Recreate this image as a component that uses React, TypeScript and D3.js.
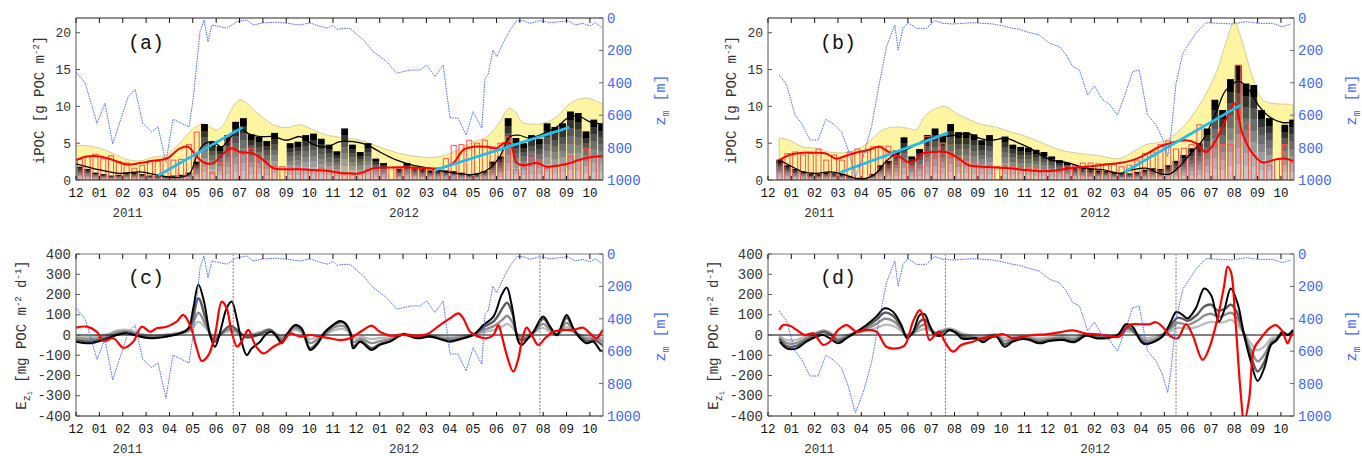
import React from "react";
import * as d3 from "d3";

type P = [number, number];

const FONT = "'Liberation Mono', 'DejaVu Sans Mono', monospace";
const TEXT = "#333";
const BLUE = "#3f66ff";
const T_MAX = 22.56; // months after 1 Dec 2010

const months = ["12", "01", "02", "03", "04", "05", "06", "07", "08", "09", "10", "11", "12", "01", "02", "03", "04", "05", "06", "07", "08", "09", "10"];
const years: [string, number][] = [["2011", 2.2], ["2012", 14.04]];
const iPocTicks = [0, 5, 10, 15, 20];
const eTicks = [-400, -300, -200, -100, 0, 100, 200, 300, 400];
const zmTicks = [0, 200, 400, 600, 800, 1000];

// 10-day integrated POC bars (g POC m-2), index i -> (i + 0.5) / 3 months
const greyA = [1.8, 1.5, 1.0, 0.8, 0.6, 0.7, 1.0, 1.0, 0.8, 0.6, 0.5, 0.5, 0.6, 0.7, 1.0, 2.5, 7.6, 5.2, 4.6, 6.1, 7.9, 8.4, 6.2, 5.9, 5.3, 6.4, 0, 5.0, 5.2, 6.1, 6.3, 5.6, 4.8, 3.9, 7.0, 4.8, 3.8, 5.0, 2.9, 2.3, 0, 1.5, 2.3, 1.8, 1.5, 1.3, 1.2, 1.3, 1.2, 1.0, 0.8, 0.9, 1.2, 2.5, 3.2, 8.4, 5.7, 5.0, 6.1, 5.6, 7.7, 7.2, 7.7, 9.3, 9.1, 6.6, 8.2, 7.6];
const redA = [2.8, 3.2, 3.5, 2.9, 3.3, 2.5, 2.3, 1.6, 2.0, 2.6, 2.5, 3.0, 2.7, 2.8, 4.8, 6.5, 2.0, 1.0, 2.4, 5.9, 4.0, 3.6, 4.3, 3.6, 2.5, 1.8, 1.8, 1.6, 1.5, 1.5, 1.3, 1.6, 1.3, 1.2, 0.8, 0.7, 1.0, 1.4, 1.4, 1.4, 1.7, 1.6, 1.7, 1.6, 1.7, 1.5, 1.5, 2.9, 4.7, 4.8, 5.4, 5.0, 5.4, 4.5, 5.0, 5.9, 1.4, 1.8, 3.6, 2.7, 1.6, 2.0, 2.0, 3.2, 2.8, 4.3, 3.2, 3.3];
const greyB = [0, 2.7, 2.0, 1.5, 1.2, 0.8, 0.8, 1.0, 0.9, 0.8, 0.5, 0.3, 0.3, 0.8, 2.0, 2.6, 4.0, 5.8, 3.2, 4.2, 6.1, 7.0, 6.0, 7.6, 6.5, 6.5, 6.2, 5.4, 6.1, 0, 5.9, 4.8, 4.5, 4.4, 4.1, 3.8, 3.2, 2.7, 2.3, 1.8, 1.7, 1.5, 1.3, 1.2, 1.1, 0.9, 0.9, 1.1, 1.4, 1.6, 1.5, 2.0, 2.6, 3.4, 4.3, 5.0, 7.0, 10.9, 9.5, 13.7, 15.6, 13.1, 12.9, 9.5, 8.4, 0, 7.5, 8.2];
const redB = [0, 2.8, 3.6, 3.8, 3.4, 3.6, 4.2, 2.7, 3.4, 2.7, 3.8, 4.2, 3.8, 4.5, 4.6, 4.6, 3.2, 2.3, 1.8, 1.8, 5.9, 3.2, 5.0, 3.2, 3.0, 2.8, 2.3, 1.8, 1.9, 1.8, 1.9, 1.8, 1.7, 1.6, 1.5, 1.4, 1.3, 1.2, 1.9, 2.0, 2.3, 2.3, 2.2, 2.2, 2.1, 1.8, 2.0, 2.6, 3.6, 3.8, 4.8, 5.3, 4.2, 4.3, 4.8, 7.5, 3.8, 4.8, 4.8, 4.8, 15.6, 7.7, 3.4, 2.4, 2.0, 2.8, 4.8, 2.4];

// envelope (yellow), smoothed iPOC (black), smoothed red series
const envA: P[] = [[0, 4.66], [0.46, 4.66], [1.03, 4.3], [1.6, 3.6], [2.17, 2.8], [2.74, 2.6], [3.3, 3.1], [3.88, 3.4], [4.45, 5.0], [5.02, 7.0], [5.45, 7.6], [5.74, 7.2], [6.02, 6.8], [6.31, 7.5], [6.73, 10.0], [7.02, 10.9], [7.31, 10.4], [7.88, 8.8], [8.45, 7.5], [9.02, 7.1], [9.59, 7.5], [10.16, 6.8], [10.73, 6.1], [11.3, 5.8], [12.16, 5.4], [13.0, 4.5], [13.73, 3.7], [14.58, 3.2], [15.44, 3.1], [16.15, 3.8], [16.87, 5.0], [17.58, 5.9], [18.15, 7.9], [18.51, 9.7], [18.8, 9.3], [19.08, 7.9], [19.44, 7.6], [20.0, 7.7], [20.58, 8.6], [21.15, 10.4], [21.72, 11.1], [22.15, 10.9], [22.58, 10.2]];
const envB: P[] = [[0.48, 5.7], [0.92, 5.4], [1.49, 4.5], [2.06, 4.3], [2.63, 3.8], [3.2, 3.7], [3.77, 4.1], [4.34, 5.2], [4.91, 6.8], [5.48, 7.2], [6.05, 7.0], [6.34, 6.8], [6.76, 8.8], [7.19, 9.7], [7.62, 10.0], [8.05, 9.1], [8.62, 8.2], [9.19, 7.5], [9.76, 7.2], [10.33, 6.6], [10.9, 6.1], [11.64, 5.2], [12.5, 4.1], [13.36, 3.6], [14.21, 3.3], [15.07, 2.9], [15.64, 3.8], [16.21, 4.8], [16.92, 5.2], [17.5, 6.3], [18.07, 8.2], [18.64, 10.9], [19.21, 14.5], [19.64, 18.6], [20.0, 21.5], [20.35, 18.6], [20.78, 14.0], [21.21, 10.9], [21.64, 10.4], [22.21, 10.3], [22.52, 10.2]];
const blackA: P[] = [[0, 2.2], [1.03, 1.36], [1.89, 0.9], [2.74, 1.1], [3.59, 0.6], [4.45, 0.35], [4.87, 0.9], [5.16, 3.2], [5.45, 4.8], [5.88, 5.2], [6.23, 4.5], [6.59, 5.7], [7.02, 7.0], [7.38, 6.3], [7.88, 5.9], [8.45, 5.9], [9.02, 5.4], [9.59, 5.9], [10.16, 4.8], [10.73, 4.5], [11.3, 5.2], [11.87, 5.2], [12.44, 4.8], [13.01, 3.8], [13.73, 2.7], [14.44, 2.0], [15.15, 1.6], [15.87, 1.1], [16.58, 0.8], [17.15, 0.8], [17.72, 1.6], [18.15, 3.2], [18.58, 5.9], [18.93, 6.1], [19.43, 5.7], [20.0, 6.3], [20.58, 7.2], [21.15, 8.6], [21.58, 8.6], [22.0, 7.9], [22.58, 7.6]];
const blackB: P[] = [[0.48, 2.7], [0.92, 2.0], [1.49, 1.1], [2.06, 0.9], [2.63, 1.1], [3.2, 0.8], [3.77, 0.2], [4.2, 0.2], [4.63, 0.9], [5.05, 2.5], [5.48, 3.6], [6.05, 4.3], [6.48, 5.0], [6.91, 5.7], [7.48, 5.9], [8.05, 6.1], [8.62, 6.3], [9.05, 5.7], [9.62, 5.4], [10.19, 5.7], [10.76, 5.0], [11.19, 4.4], [12.07, 2.8], [12.93, 2.3], [13.64, 1.6], [14.36, 1.4], [15.07, 0.9], [15.64, 1.4], [16.21, 1.6], [16.78, 0.9], [17.21, 0.8], [17.64, 1.8], [18.07, 3.4], [18.64, 5.4], [19.21, 9.1], [19.64, 12.2], [20.21, 13.4], [20.64, 12.2], [21.07, 10.0], [21.5, 8.6], [22.07, 7.8], [22.52, 7.9]];
const redLineA: P[] = [[0, 2.7], [0.46, 3.2], [1.03, 3.2], [1.6, 2.7], [2.17, 2.1], [2.74, 2.3], [3.3, 2.6], [3.88, 2.9], [4.45, 4.3], [4.8, 4.5], [5.16, 3.2], [5.52, 2.3], [5.88, 2.3], [6.31, 3.6], [6.66, 4.3], [7.02, 3.8], [7.59, 3.6], [8.02, 2.7], [8.45, 1.6], [9.02, 1.45], [9.59, 1.45], [10.16, 1.36], [10.73, 1.27], [11.3, 0.95], [11.7, 0.9], [12.16, 0.9], [12.73, 1.6], [13.44, 1.7], [14.3, 1.7], [15.01, 1.6], [15.58, 1.6], [16.15, 2.3], [16.58, 4.1], [17.01, 4.5], [17.58, 4.5], [18.01, 4.3], [18.3, 5.0], [18.58, 5.0], [18.87, 2.3], [19.15, 2.0], [19.72, 2.3], [20.15, 1.8], [20.72, 2.0], [21.15, 2.3], [21.72, 2.9], [22.29, 3.2], [22.58, 3.2]];
const redLineB: P[] = [[0.48, 2.7], [0.92, 3.4], [1.49, 3.7], [2.06, 3.7], [2.49, 3.6], [2.92, 2.9], [3.35, 3.3], [3.77, 3.7], [4.34, 4.1], [4.77, 4.5], [5.19, 3.8], [5.62, 3.2], [6.05, 2.4], [6.34, 2.7], [6.62, 3.6], [7.05, 3.8], [7.62, 3.8], [8.05, 3.2], [8.62, 2.0], [9.19, 1.8], [9.76, 1.7], [10.33, 1.6], [10.9, 1.4], [11.64, 1.2], [12.36, 1.3], [12.93, 1.6], [13.64, 1.8], [14.5, 2.1], [15.07, 2.3], [15.64, 2.7], [16.21, 3.5], [16.78, 4.5], [17.35, 5.1], [17.93, 5.4], [18.35, 5.0], [18.78, 3.8], [19.21, 5.4], [19.64, 8.2], [20.0, 10.4], [20.35, 6.3], [20.78, 3.6], [21.21, 2.4], [21.78, 2.8], [22.21, 2.9], [22.52, 2.6]];
const cyanA: P[][] = [[[3.52, 0.6], [7.13, 7.15]], [[15.37, 1.36], [21.12, 7.15]]];
const cyanB: P[][] = [[[3.11, 1.05], [7.72, 6.4]], [[15.28, 1.05], [20.28, 10.2]]];

// mixed layer depth z_m (m)
const zmA: P[] = [[0, 333], [0.39, 401], [0.9, 650], [1.24, 527], [1.57, 777], [2.23, 487], [2.53, 440], [2.86, 650], [3.24, 702], [3.51, 671], [3.85, 891], [4.15, 625], [4.52, 650], [4.84, 673], [5.01, 506], [5.31, 85], [5.48, 12], [5.65, 146], [5.82, 43], [6.46, 63], [6.89, 23], [7.32, 12], [7.58, 43], [8.01, 30], [8.6, 26], [9.16, 35], [9.59, 43], [10.02, 30], [10.45, 52], [10.79, 63], [11.0, 45], [11.17, 70], [11.45, 64], [11.73, 64], [12.3, 136], [12.73, 208], [13.3, 270], [13.73, 341], [14.3, 321], [14.73, 321], [15.01, 290], [15.37, 362], [15.72, 290], [16.01, 617], [16.35, 617], [16.7, 722], [17.0, 578], [17.37, 680], [17.51, 372], [17.64, 352], [17.85, 198], [18.01, 239], [18.28, 155], [18.58, 74], [18.87, 16], [19.14, 16], [19.43, 33], [19.86, 16], [20.29, 29], [20.72, 23], [21.06, 16], [21.36, 43], [21.7, 33], [22.0, 49], [22.22, 29], [22.5, 57]];
const zmB: P[] = [[0.48, 352], [0.8, 414], [1.16, 599], [1.44, 650], [1.8, 753], [2.15, 753], [2.48, 625], [2.8, 654], [3.15, 702], [3.44, 815], [3.75, 980], [4.08, 856], [4.44, 671], [4.75, 424], [5.08, 177], [5.44, 43], [5.58, 198], [5.79, 64], [6.01, 29], [6.37, 64], [6.79, 64], [7.15, 16], [7.5, 33], [7.93, 37], [8.36, 33], [8.79, 29], [9.22, 33], [9.64, 37], [10.07, 49], [10.5, 64], [10.79, 70], [11.07, 84], [11.64, 105], [12.07, 156], [12.5, 177], [12.79, 228], [13.07, 300], [13.36, 321], [13.71, 475], [14.0, 420], [14.36, 506], [14.64, 531], [14.99, 599], [15.28, 486], [15.64, 331], [15.92, 321], [16.28, 599], [16.64, 660], [16.92, 743], [17.14, 856], [17.28, 722], [17.5, 403], [17.79, 218], [18.07, 156], [18.35, 95], [18.78, 29], [19.35, 33], [19.92, 37], [20.49, 23], [21.06, 33], [21.63, 33], [22.06, 54], [22.42, 37]];

// export fluxes E_zi (mg POC m-2 d-1), panel (c)
const eBlackC: P[] = [[0, -33], [0.6, -41], [1.17, -25], [1.74, 0], [2.17, 8], [2.74, -8], [3.3, -16], [3.88, -8], [4.45, 8], [4.81, 33], [5.02, 132], [5.24, 250], [5.48, 165], [5.74, 0], [5.95, -58], [6.17, 16], [6.45, 132], [6.66, 165], [6.88, 82], [7.09, -33], [7.31, -99], [7.52, -66], [7.88, -33], [8.16, 8], [8.38, 16], [8.6, -8], [8.8, -41], [9.02, 0], [9.38, 49], [9.66, 33], [10.02, -74], [10.3, -49], [10.66, 16], [11.0, 49], [11.3, 69], [11.5, 60], [11.73, 16], [11.87, -66], [12.16, -33], [12.66, -74], [13.01, -49], [13.44, -33], [14.01, 3], [14.58, -16], [15.15, -8], [15.72, -25], [16.01, -33], [16.58, -16], [17.0, 0], [17.44, 49], [17.87, 91], [18.22, 198], [18.44, 234], [18.65, 148], [18.94, -33], [19.08, -49], [19.29, -25], [19.58, 16], [20.0, 91], [20.29, 41], [20.58, 0], [21.0, 99], [21.29, 33], [21.58, -16], [21.86, -41], [22.15, -33], [22.43, -74], [22.58, -82]];
const eDarkC: P[] = [[0, -25], [0.6, -32], [1.2, -18], [1.8, 5], [2.2, 12], [2.8, -8], [3.3, -14], [3.9, -5], [4.45, 8], [4.85, 35], [5.24, 180], [5.55, 80], [5.9, -35], [6.2, 5], [6.6, 45], [6.9, 25], [7.3, -12], [7.9, 5], [8.3, 25], [8.8, -28], [9.35, 45], [9.65, 28], [10.02, -65], [10.3, -42], [10.7, 15], [11.1, 55], [11.44, 62], [11.75, 10], [11.87, -55], [12.2, -30], [12.66, -65], [13.0, -45], [13.45, -30], [14.0, 3], [14.6, -14], [15.15, -8], [15.7, -22], [16.0, -28], [16.6, -14], [17.0, 0], [17.45, 40], [17.9, 70], [18.3, 140], [18.45, 160], [18.7, 100], [18.95, -20], [19.3, -18], [19.6, 15], [20.0, 80], [20.3, 38], [20.6, 0], [21.0, 85], [21.3, 28], [21.6, -12], [21.9, -30], [22.2, -25], [22.58, -55]];
const eMidC: P[] = [[0, -15], [0.6, -20], [1.2, -8], [1.8, 15], [2.2, 18], [2.8, -2], [3.3, -8], [3.9, 0], [4.45, 10], [4.85, 25], [5.24, 110], [5.55, 50], [5.9, -20], [6.2, 5], [6.6, 30], [6.9, 15], [7.3, -5], [7.9, 12], [8.3, 25], [8.8, -15], [9.35, 35], [9.65, 20], [10.02, -40], [10.3, -25], [10.7, 10], [11.1, 40], [11.44, 45], [11.75, 5], [11.87, -35], [12.2, -20], [12.66, -40], [13.0, -30], [13.45, -20], [14.0, 5], [14.6, -10], [15.15, -5], [15.7, -15], [16.0, -18], [16.6, -8], [17.0, 0], [17.45, 25], [17.9, 45], [18.3, 80], [18.45, 95], [18.7, 60], [18.95, -8], [19.3, -8], [19.6, 15], [20.0, 55], [20.3, 25], [20.6, 0], [21.0, 60], [21.3, 20], [21.6, -5], [21.9, -18], [22.2, -15], [22.58, -35]];
const eLightC: P[] = [[0, -8], [0.6, -10], [1.2, 0], [1.8, 22], [2.2, 25], [2.8, 5], [3.3, -3], [3.9, 3], [4.45, 10], [4.85, 18], [5.24, 65], [5.55, 35], [5.9, -8], [6.2, 5], [6.6, 20], [6.9, 10], [7.3, 0], [7.9, 15], [8.3, 28], [8.8, -5], [9.35, 25], [9.65, 15], [10.02, -20], [10.3, -12], [10.7, 5], [11.1, 25], [11.44, 30], [11.75, 5], [11.87, -18], [12.2, -10], [12.66, -20], [13.0, -15], [13.45, -10], [14.0, 5], [14.6, -5], [15.15, -2], [15.7, -8], [16.0, -10], [16.6, -4], [17.0, 2], [17.45, 15], [17.9, 25], [18.3, 45], [18.45, 55], [18.7, 35], [18.95, 2], [19.3, 0], [19.6, 12], [20.0, 35], [20.3, 15], [20.6, 0], [21.0, 40], [21.3, 12], [21.6, 0], [21.9, -8], [22.2, -8], [22.58, -18]];
const eRedC: P[] = [[0, 36], [0.46, 41], [0.89, 16], [1.17, -30], [1.6, -16], [2.03, -63], [2.45, -33], [2.81, 41], [3.17, 16], [3.45, 33], [3.88, 41], [4.31, 66], [4.59, 99], [4.88, 49], [5.17, -66], [5.38, -128], [5.67, -99], [5.95, 0], [6.24, 165], [6.45, 132], [6.66, 16], [6.9, -58], [7.16, -16], [7.38, 25], [7.67, -49], [8.02, -91], [8.45, -58], [8.88, -30], [9.16, 8], [9.59, -8], [10.02, 0], [10.45, -8], [10.87, -16], [11.3, -25], [11.73, -16], [12.3, 25], [12.66, 46], [13.0, 16], [13.44, -3], [14.0, 0], [14.58, -3], [15.01, 3], [15.58, 49], [16.01, 82], [16.37, 107], [16.58, 82], [16.87, 16], [17.22, -8], [17.58, -16], [17.87, 0], [18.08, 49], [18.22, 0], [18.44, -99], [18.72, -181], [18.94, -115], [19.08, -33], [19.29, 36], [19.51, 0], [19.79, -49], [20.08, -16], [20.43, 16], [20.86, 25], [21.29, 25], [21.72, 36], [22.0, 8], [22.29, -16], [22.5, 16], [22.58, 25]];

// panel (d)
const eBlackD: P[] = [[0.51, -33], [0.8, -66], [1.23, -66], [1.65, -33], [2.08, -8], [2.37, 0], [2.65, -16], [3.01, -41], [3.37, -16], [3.8, 16], [4.22, 49], [4.65, 91], [5.0, 132], [5.36, 115], [5.72, 49], [5.96, -16], [6.22, 16], [6.51, 99], [6.72, 102], [6.93, 49], [7.15, 0], [7.5, 0], [7.79, 25], [8.08, 8], [8.29, -16], [8.58, -20], [8.93, -16], [9.22, -36], [9.5, -16], [9.79, -8], [10.15, -58], [10.5, -33], [10.93, -20], [11.22, -25], [11.64, -41], [12.07, -30], [12.64, -25], [13.14, -36], [13.64, -3], [14.07, -16], [14.5, -16], [15.0, 0], [15.35, 53], [15.64, 41], [16.0, -33], [16.21, -46], [16.57, -33], [16.92, -8], [17.28, 66], [17.52, 115], [17.78, 99], [17.99, 82], [18.35, 132], [18.71, 230], [19.0, 198], [19.21, 107], [19.35, 66], [19.57, 123], [19.85, 230], [20.14, 156], [20.42, 0], [20.71, -132], [21.0, -227], [21.28, -165], [21.57, -49], [21.78, -30], [22.07, 16], [22.28, 0], [22.52, 25]];
const eDarkD: P[] = [[0.48, -20], [0.8, -55], [1.2, -55], [1.65, -25], [2.1, 5], [2.4, 15], [2.7, 0], [3.0, -30], [3.4, -10], [3.8, 15], [4.2, 40], [4.65, 75], [5.0, 110], [5.36, 95], [5.72, 40], [5.96, -10], [6.22, 10], [6.55, 70], [6.75, 75], [6.95, 40], [7.2, 5], [7.5, 15], [7.8, 25], [8.1, 10], [8.4, -10], [8.8, -15], [9.2, -25], [9.5, -10], [9.8, -5], [10.15, -45], [10.5, -25], [10.9, -15], [11.2, -20], [11.6, -35], [12.1, -25], [12.6, -20], [13.1, -30], [13.6, -3], [14.1, -12], [14.5, -12], [15.0, 0], [15.35, 40], [15.6, 30], [16.0, -25], [16.2, -40], [16.6, -30], [16.9, -5], [17.3, 50], [17.55, 85], [17.8, 80], [18.0, 70], [18.4, 100], [18.7, 140], [19.0, 150], [19.3, 120], [19.6, 130], [19.85, 150], [20.1, 115], [20.4, 10], [20.7, -100], [21.0, -180], [21.3, -130], [21.6, -40], [21.8, -25], [22.1, 10], [22.3, 0], [22.52, 20]];
const eMidD: P[] = [[0.48, -12], [0.8, -40], [1.2, -40], [1.65, -15], [2.1, 10], [2.4, 20], [2.7, 5], [3.0, -22], [3.4, -5], [3.8, 15], [4.2, 30], [4.65, 55], [5.0, 80], [5.36, 70], [5.72, 30], [5.96, -5], [6.22, 8], [6.55, 45], [6.75, 50], [6.95, 30], [7.2, 10], [7.5, 20], [7.8, 28], [8.1, 15], [8.4, -5], [8.8, -10], [9.2, -15], [9.5, -5], [9.8, 0], [10.15, -30], [10.5, -15], [10.9, -10], [11.2, -12], [11.6, -25], [12.1, -18], [12.6, -12], [13.1, -20], [13.6, 0], [14.1, -8], [14.5, -8], [15.0, 0], [15.35, 30], [15.6, 22], [16.0, -15], [16.2, -28], [16.6, -20], [16.9, 0], [17.3, 35], [17.55, 60], [17.8, 55], [18.0, 50], [18.4, 70], [18.7, 95], [19.0, 105], [19.3, 90], [19.6, 100], [19.85, 110], [20.1, 85], [20.4, 10], [20.7, -70], [21.0, -130], [21.3, -95], [21.6, -30], [21.8, -18], [22.1, 8], [22.3, 0], [22.52, 15]];
const eLightD: P[] = [[0.48, -5], [0.8, -25], [1.2, -25], [1.65, -5], [2.1, 12], [2.4, 22], [2.7, 10], [3.0, -12], [3.4, 0], [3.8, 12], [4.2, 20], [4.65, 35], [5.0, 50], [5.36, 45], [5.72, 20], [5.96, 0], [6.22, 8], [6.55, 25], [6.75, 30], [6.95, 22], [7.2, 12], [7.5, 25], [7.8, 32], [8.1, 20], [8.4, 5], [8.8, -3], [9.2, -8], [9.5, 0], [9.8, 3], [10.15, -15], [10.5, -8], [10.9, -5], [11.2, -5], [11.6, -15], [12.1, -10], [12.6, -5], [13.1, -10], [13.6, 3], [14.1, -3], [14.5, -3], [15.0, 2], [15.35, 18], [15.6, 15], [16.0, -5], [16.2, -15], [16.6, -10], [16.9, 2], [17.3, 20], [17.55, 35], [17.8, 35], [18.0, 32], [18.4, 40], [18.7, 55], [19.0, 65], [19.3, 60], [19.6, 65], [19.85, 75], [20.1, 55], [20.4, 10], [20.7, -40], [21.0, -75], [21.3, -55], [21.6, -15], [21.8, -10], [22.1, 5], [22.3, 0], [22.52, 8]];
const eRedD: P[] = [[0.48, 25], [0.65, 49], [0.94, 46], [1.23, 25], [1.58, 0], [1.94, 8], [2.37, -49], [2.65, -33], [3.01, 25], [3.37, 49], [3.8, 16], [4.22, 25], [4.65, 16], [5.08, -58], [5.51, -66], [5.87, -49], [6.22, 66], [6.51, 123], [6.72, 66], [6.93, -25], [7.22, 8], [7.36, 16], [7.58, -33], [7.93, -82], [8.29, -49], [8.79, -33], [9.15, -16], [9.65, -8], [10.07, 5], [10.5, -16], [10.93, -8], [11.35, 0], [11.92, 3], [12.5, 13], [13.07, 23], [13.64, 7], [14.21, 3], [14.78, -8], [15.07, -8], [15.5, 49], [15.92, 53], [16.35, 53], [16.64, 63], [16.92, 41], [17.28, -8], [17.57, -16], [17.93, 53], [18.21, 0], [18.64, -123], [18.92, -66], [19.28, 82], [19.57, 247], [19.71, 337], [19.85, 313], [20.04, 82], [20.28, -296], [20.42, -428], [20.64, -313], [20.85, -66], [21.14, -16], [21.5, 33], [21.78, 49], [22.07, 16], [22.28, -41], [22.42, -8], [22.52, 8]];

const markersC = [6.73, 19.86];
const markersD = [7.61, 17.5];

const stackStops: [number, string][] = [
  [0, "#000"], [0.13, "#000"], [0.13, "#333"], [0.24, "#333"], [0.24, "#555"], [0.36, "#555"],
  [0.36, "#6e6e6e"], [0.48, "#6e6e6e"], [0.48, "#858585"], [0.6, "#858585"], [0.6, "#9c9c9c"], [0.72, "#9c9c9c"],
  [0.72, "#b2b2b2"], [0.86, "#b2b2b2"], [0.86, "#c6c6c6"], [1, "#c6c6c6"],
];

const smoothCurve = d3.curveCatmullRom.alpha(0.5);

function Frame({ x, y, z, ticks, tickFont, topStroke, topWidth }: any) {
  const [x0, x1] = x.range();
  const [yb, yt] = y.range();
  return (
    <g fontFamily={FONT}>
      <line x1={x0} x2={x1} y1={yt} y2={yt} stroke={topStroke} strokeWidth={topWidth} />
      <line x1={x0} x2={x1} y1={yb} y2={yb} stroke="#222" strokeWidth={1} />
      <line x1={x0} x2={x0} y1={yt} y2={yb} stroke="#555" strokeWidth={1} />
      <line x1={x1} x2={x1} y1={yt} y2={yb} stroke="#666" strokeWidth={1} />
      {months.map((m, i) => (
        <g key={i}>
          <line x1={x(i)} x2={x(i)} y1={yt} y2={yt + 5} stroke="#111" />
          <line x1={x(i)} x2={x(i)} y1={yb} y2={yb - 4} stroke="#111" />
          <text x={x(i)} y={yb + 16.5} textAnchor="middle" fontSize={12.5} fill="#111">{m}</text>
        </g>
      ))}
      {years.map(([lab, t]) => (
        <text key={lab} x={x(t)} y={yb + 36.5} textAnchor="middle" fontSize={12.5} fill={TEXT}>{lab}</text>
      ))}
      {ticks.map((v: number) => (
        <g key={v}>
          <line x1={x0} x2={x0 + 4} y1={y(v)} y2={y(v)} stroke="#555" />
          <text x={x0 - 5} y={y(v) + 4.5} textAnchor="end" fontSize={tickFont} fill={TEXT}>{v}</text>
        </g>
      ))}
      {zmTicks.map((v) => (
        <g key={v}>
          <line x1={x1 - 4} x2={x1} y1={z(v)} y2={z(v)} stroke="#666" />
          <text x={x1 + 4} y={z(v) + 5} fontSize={14} fill={BLUE}>{v}</text>
        </g>
      ))}
    </g>
  );
}

function TopPanel({ id, x0, x1, tag, grey, red, env, black, redLine, cyan, zm }: any) {
  const y0 = 18, y1 = 180;
  const x = d3.scaleLinear().domain([0, T_MAX]).range([x0, x1]);
  const y = d3.scaleLinear().domain([0, 22]).range([y1, y0]);
  const z = d3.scaleLinear().domain([0, 1000]).range([y0, y1]);
  const line = d3.line<P>().x((d) => x(d[0])).y((d) => y(d[1])).curve(smoothCurve);
  const straight = d3.line<P>().x((d) => x(d[0])).y((d) => y(d[1]));
  const area = d3.area<P>().x((d) => x(d[0])).y0(y(0)).y1((d) => y(d[1])).curve(smoothCurve);
  const zLine = d3.line<P>().x((d) => x(d[0])).y((d) => z(d[1]));
  const step = x(1 / 3) - x(0);
  const bt = (i: number) => (i + 0.5) / 3;
  return (
    <g>
      <clipPath id={`clip-${id}`}>
        <rect x={x0} y={y0} width={x1 - x0} height={y1 - y0} />
      </clipPath>
      <g clipPath={`url(#clip-${id})`}>
        <path d={area(env) || ""} fill="#fdf5a2" stroke="#c9c08a" strokeWidth={0.8} />
        {grey.map((v: number, i: number) =>
          v > 0 ? (
            <rect key={i} x={x(bt(i)) - step * 0.44} width={step * 0.88} y={y(v)} height={y(0) - y(v)} fill="url(#stack)" />
          ) : null
        )}
        {red.map((v: number, i: number) =>
          v > 0 ? (
            <rect key={i} x={x(bt(i)) - step * 0.32} width={step * 0.64} y={y(v)} height={y(0) - y(v)} fill="none" stroke="#ff5050" strokeWidth={1} />
          ) : null
        )}
        <path d={line(black) || ""} fill="none" stroke="#000" strokeWidth={1.3} />
        <path d={line(redLine) || ""} fill="none" stroke="#ff0000" strokeWidth={2} />
        {cyan.map((seg: P[], k: number) => (
          <path key={k} d={straight(seg) || ""} stroke="#22bdec" strokeWidth={2.8} fill="none" />
        ))}
        <path d={zLine(zm) || ""} fill="none" stroke={BLUE} strokeWidth={1} strokeDasharray="1.5 1" />
      </g>
      <Frame x={x} y={y} z={z} ticks={iPocTicks} tickFont={13} topStroke="#222" topWidth={1} />
      <text x={x0 + 52} y={49} fontFamily={FONT} fontSize={20} fill="#111">{tag}</text>
      <text transform={`translate(${x0 - 32},100) rotate(-90)`} textAnchor="middle" fontFamily={FONT} fontSize={14} fill={TEXT}>
        iPOC [g POC m<tspan dy={-5} fontSize={9}>-2</tspan><tspan dy={5}>]</tspan>
      </text>
      <text transform={`translate(${x1 + 62},100) rotate(-90)`} textAnchor="middle" fontFamily={FONT} fontSize={15} fill={BLUE}>
        z<tspan dy={4} fontSize={10}>m</tspan><tspan dy={-4}> [m]</tspan>
      </text>
    </g>
  );
}

function BottomPanel({ id, x0, x1, tag, greys, black, redLine, zm, markers }: any) {
  const y0 = 254, y1 = 416;
  const x = d3.scaleLinear().domain([0, T_MAX]).range([x0, x1]);
  const y = d3.scaleLinear().domain([-400, 400]).range([y1, y0]);
  const z = d3.scaleLinear().domain([0, 1000]).range([y0, y1]);
  const line = d3.line<P>().x((d) => x(d[0])).y((d) => y(d[1])).curve(smoothCurve);
  const zLine = d3.line<P>().x((d) => x(d[0])).y((d) => z(d[1]));
  return (
    <g>
      <clipPath id={`clip-${id}`}>
        <rect x={x0} y={y0} width={x1 - x0} height={y1 - y0} />
      </clipPath>
      <g clipPath={`url(#clip-${id})`}>
        {greys.map(([data, col]: [P[], string], k: number) => (
          <path key={k} d={line(data) || ""} fill="none" stroke={col} strokeWidth={2.4} />
        ))}
        <path d={line(black) || ""} fill="none" stroke="#000" strokeWidth={2} />
        <line x1={x0} x2={x1} y1={y(0)} y2={y(0)} stroke="#000" strokeWidth={1} />
        <path d={line(redLine) || ""} fill="none" stroke="#ff0000" strokeWidth={2.2} />
        {markers.map((t: number) => (
          <line key={t} x1={x(t)} x2={x(t)} y1={y0} y2={y1} stroke="#777" strokeWidth={1} strokeDasharray="2 1.5" />
        ))}
        <path d={zLine(zm) || ""} fill="none" stroke={BLUE} strokeWidth={1} strokeDasharray="1.5 1" />
      </g>
      <Frame x={x} y={y} z={z} ticks={eTicks} tickFont={14} topStroke="#bbb" topWidth={2} />
      <text x={x0 + 52} y={284} fontFamily={FONT} fontSize={20} fill="#111">{tag}</text>
      <text transform={`translate(${x0 - 50},335) rotate(-90)`} textAnchor="middle" fontFamily={FONT} fontSize={14} fill={TEXT}>
        E<tspan dy={4} fontSize={10}>z</tspan><tspan dy={2} fontSize={7}>i</tspan>
        <tspan dy={-6} fontSize={14}> [mg POC m</tspan><tspan dy={-5} fontSize={9}>-2</tspan>
        <tspan dy={5}> d</tspan><tspan dy={-5} fontSize={9}>-1</tspan><tspan dy={5}>]</tspan>
      </text>
      <text transform={`translate(${x1 + 62},336) rotate(-90)`} textAnchor="middle" fontFamily={FONT} fontSize={15} fill={BLUE}>
        z<tspan dy={4} fontSize={10}>m</tspan><tspan dy={-4}> [m]</tspan>
      </text>
    </g>
  );
}

export default function App() {
  return (
    <svg width={1362} height={456} style={{ position: "absolute", left: 0, top: 0, background: "#fff" }}>
      <defs>
        <linearGradient id="stack" x1="0" y1="0" x2="0" y2="1">
          {stackStops.map(([o, c], i) => (
            <stop key={i} offset={o} stopColor={c} />
          ))}
        </linearGradient>
      </defs>
      <TopPanel id="a" x0={76} x1={603} tag="(a)" grey={greyA} red={redA} env={envA} black={blackA} redLine={redLineA} cyan={cyanA} zm={zmA} />
      <TopPanel id="b" x0={768} x1={1294} tag="(b)" grey={greyB} red={redB} env={envB} black={blackB} redLine={redLineB} cyan={cyanB} zm={zmB} />
      <BottomPanel id="c" x0={76} x1={603} tag="(c)" greys={[[eLightC, "#bdbdbd"], [eMidC, "#8f8f8f"], [eDarkC, "#5a5a5a"]]} black={eBlackC} redLine={eRedC} zm={zmA} markers={markersC} />
      <BottomPanel id="d" x0={768} x1={1294} tag="(d)" greys={[[eLightD, "#bdbdbd"], [eMidD, "#8f8f8f"], [eDarkD, "#5a5a5a"]]} black={eBlackD} redLine={eRedD} zm={zmB} markers={markersD} />
    </svg>
  );
}
